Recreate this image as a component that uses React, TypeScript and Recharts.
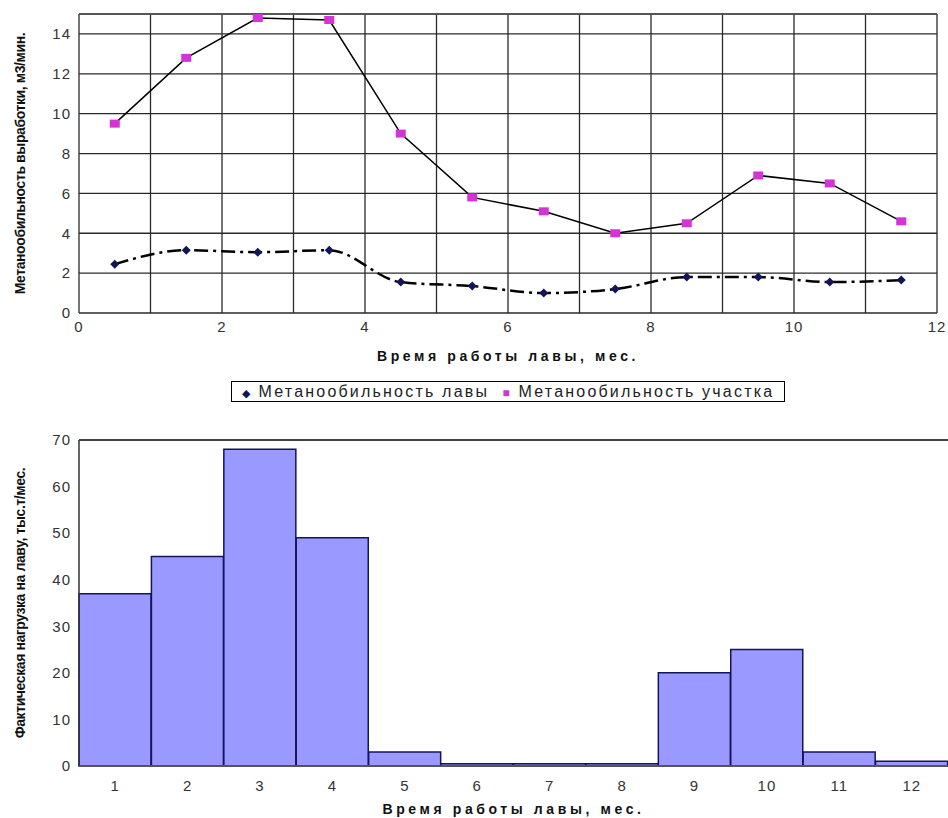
import {
  LineChart,
  Line,
  BarChart,
  Bar,
  XAxis,
  YAxis,
  CartesianGrid,
  ReferenceLine,
  Legend,
} from "recharts";

const months = [0.5, 1.5, 2.5, 3.5, 4.5, 5.5, 6.5, 7.5, 8.5, 9.5, 10.5, 11.5];
const lavaGas = [2.45, 3.15, 3.05, 3.15, 1.55, 1.35, 1.0, 1.2, 1.8, 1.8, 1.55, 1.65];
const sectionGas = [9.5, 12.8, 14.8, 14.7, 9.0, 5.8, 5.1, 4.0, 4.5, 6.9, 6.5, 4.6];
const xTicks = [0, 1, 2, 3, 4, 5, 6, 7, 8, 9, 10, 11, 12];
const gasTicks = [0, 2, 4, 6, 8, 10, 12, 14];

const monthLabels = ["1", "2", "3", "4", "5", "6", "7", "8", "9", "10", "11", "12"];
const loads = [37, 45, 68, 49, 3, 0.5, 0.5, 0.5, 20, 25, 3, 1];
const loadTicks = [0, 10, 20, 30, 40, 50, 60, 70];

const FONT = "'Liberation Sans', Arial, sans-serif";
const NARROW = "'Liberation Sans Narrow', 'Arial Narrow', 'Liberation Sans', sans-serif";
const tickStyle = { fill: "#333", fontSize: 15, fontFamily: FONT, letterSpacing: 1 };
const titleStyle = { fill: "#111", fontSize: 14, fontWeight: 700, fontFamily: FONT, letterSpacing: 3.6 };
const yTitleStyle = {
  fill: "#111",
  fontSize: 14,
  fontWeight: 700,
  fontFamily: NARROW,
  letterSpacing: -0.4,
  textAnchor: "middle" as const,
};

const NAVY = "#14145a";
const MAGENTA = "#d633d6";

const gasData = months.map((m, i) => ({ x: m, lava: lavaGas[i], section: sectionGas[i] }));
const loadData = monthLabels.map((m, i) => ({ month: m, load: loads[i] }));

function Diamond({ cx, cy }: any) {
  if (cx == null || cy == null) return null;
  const r = 4.5;
  return <path d={`M${cx},${cy - r}L${cx + r},${cy}L${cx},${cy + r}L${cx - r},${cy}Z`} fill={NAVY} />;
}

function Square({ cx, cy }: any) {
  if (cx == null || cy == null) return null;
  return <rect x={cx - 5} y={cy - 4} width={10} height={8} fill={MAGENTA} />;
}

function GasLegend() {
  return (
    <div style={{ display: "flex", justifyContent: "center" }}>
      <div
        style={{
          border: "1px solid #000",
          height: 19,
          lineHeight: "19px",
          padding: "0 10px",
          fontFamily: FONT,
          fontSize: 16,
          letterSpacing: 2.2,
          color: "#222",
          whiteSpace: "pre",
        }}
      >
        <span style={{ color: NAVY, fontSize: 11 }}>◆</span>
        {" Метанообильность лавы  "}
        <span style={{ color: MAGENTA, fontSize: 12 }}>■</span>
        {" Метанообильность участка"}
      </div>
    </div>
  );
}

export default function App() {
  return (
    <div style={{ position: "absolute", left: 0, top: 0, width: 948, height: 818, background: "#fff" }}>
      <LineChart width={948} height={402} data={gasData} margin={{ top: 14, right: 11, left: 0, bottom: 0 }}>
        <CartesianGrid stroke="#2a2a2a" strokeWidth={1.3} />
        <XAxis
          type="number"
          dataKey="x"
          domain={[0, 12]}
          ticks={xTicks}
          interval={0}
          tickFormatter={(v) => (v % 2 === 0 ? String(v) : "")}
          tick={tickStyle}
          tickLine={false}
          axisLine={false}
          height={68}
          label={{ value: "Время работы лавы, мес.", position: "insideBottom", offset: 20, style: titleStyle }}
        />
        <YAxis
          domain={[0, 15]}
          ticks={gasTicks}
          interval={0}
          tick={tickStyle}
          tickLine={false}
          axisLine={false}
          width={79}
          label={{
            value: "Метанообильность выработки, м3/мин.",
            angle: -90,
            position: "insideLeft",
            offset: 20,
            style: yTitleStyle,
          }}
        />
        <ReferenceLine y={15} stroke="#555" strokeWidth={1.3} />
        <Legend
          verticalAlign="bottom"
          content={() => <GasLegend />}
          wrapperStyle={{ left: 79, width: 858 }}
        />
        <Line
          dataKey="lava"
          type="monotone"
          stroke="#000"
          strokeWidth={2.5}
          strokeDasharray="14 5 3 5"
          dot={<Diamond />}
          isAnimationActive={false}
        />
        <Line
          dataKey="section"
          type="linear"
          stroke="#000"
          strokeWidth={1.5}
          dot={<Square />}
          isAnimationActive={false}
        />
      </LineChart>

      <BarChart
        width={948}
        height={408}
        data={loadData}
        barCategoryGap={0}
        margin={{ top: 30, right: 0, left: 0, bottom: 0 }}
        style={{ marginTop: 8 }}
      >
        <XAxis
          dataKey="month"
          tick={tickStyle}
          tickLine={false}
          tickMargin={8}
          axisLine={{ stroke: "#555", strokeWidth: 2 }}
          height={52}
          label={{ value: "Время работы лавы, мес.", position: "insideBottom", offset: 4, style: titleStyle }}
        />
        <YAxis
          domain={[0, 70]}
          ticks={loadTicks}
          interval={0}
          tick={tickStyle}
          tickLine={false}
          axisLine={{ stroke: "#333", strokeWidth: 1.5 }}
          width={79}
          label={{
            value: "Фактическая нагрузка на лаву, тыс.т/мес.",
            angle: -90,
            position: "insideLeft",
            offset: 20,
            style: yTitleStyle,
          }}
        />
        <ReferenceLine y={70} stroke="#000" strokeWidth={1.5} />
        <Bar dataKey="load" fill="#9999ff" stroke={NAVY} strokeWidth={1.5} isAnimationActive={false} />
      </BarChart>
    </div>
  );
}
